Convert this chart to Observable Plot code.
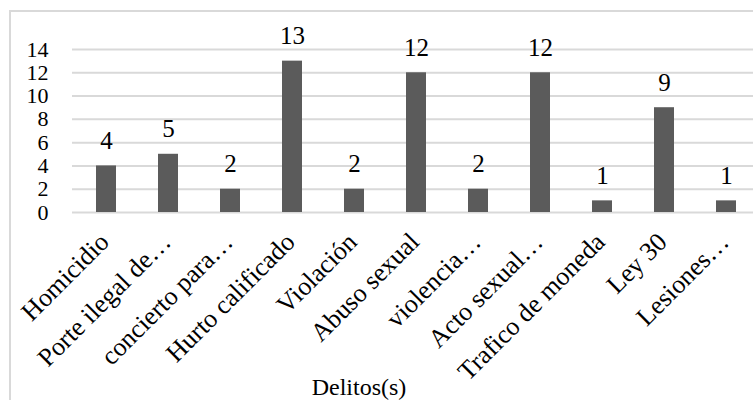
<!DOCTYPE html>
<html>
<head>
<meta charset="utf-8">
<script src="https://cdn.jsdelivr.net/npm/d3@7"></script>
<script src="https://cdn.jsdelivr.net/npm/@observablehq/plot@0.6"></script>
<style>
  html, body { margin: 0; padding: 0; background: #fff; overflow: hidden; width: 753px; height: 400px; }
  #wrap { position: relative; width: 753px; height: 400px; overflow: hidden; }
  #frame { position: absolute; left: 9px; top: 10px; width: 800px; height: 500px;
           border-left: 2px solid #d9d9d9; border-top: 2px solid #d9d9d9; box-sizing: border-box; }
  #chart { position: absolute; left: 0; top: 0; width: 765px; }
  #chart svg { max-width: none !important; font-family: "Liberation Serif", "Times New Roman", serif !important; }
  #chart svg text { font-family: "Liberation Serif", "Times New Roman", serif !important; }
  #title { position: absolute; left: 0; width: 718px; top: 374px; text-align: center; line-height: 1.1;
           font-family: "Liberation Serif", "Times New Roman", serif; font-size: 24px; color: #000; }
</style>
</head>
<body>
<div id="wrap">
  <div id="frame"></div>
  <div id="chart"></div>
  <div id="title">Delitos(s)</div>
</div>
<script>
const categories = ["Homicidio", "Porte ilegal de…", "concierto para…", "Hurto calificado", "Violación", "Abuso sexual", "violencia…", "Acto sexual…", "Trafico de moneda", "Ley 30", "Lesiones…"];
const values = [4, 5, 2, 13, 2, 12, 2, 12, 1, 9, 1];
const yTicks = [0, 2, 4, 6, 8, 10, 12, 14];

const data = categories.map((c, i) => ({category: c, value: values[i]}));

const chart = Plot.plot({
  width: 765,
  height: 400,
  marginLeft: 72,
  marginRight: 6,
  marginTop: 49,
  marginBottom: 188,
  style: "font-family: 'Liberation Serif', 'Times New Roman', serif; color: #000; background: transparent; overflow: visible; max-width: none;",
  x: {domain: categories, paddingInner: 0.68, paddingOuter: 0.34, axis: null},
  y: {domain: [0, 14], ticks: yTicks},
  marks: [
    Plot.gridY(yTicks, {stroke: "#d9d9d9", strokeOpacity: 1, strokeWidth: 2}),
    Plot.axisY(yTicks, {tickSize: 0, tickPadding: 24, fontSize: 22, label: null}),
    Plot.barY(data, {x: "category", y: "value", fill: "#5b5b5b"}),
    Plot.text(data, {x: "category", y: "value", text: d => String(d.value), lineAnchor: "bottom", dy: -17, fontSize: 25, fill: "#000"}),
    Plot.text(categories, {x: d => d, frameAnchor: "bottom", text: d => d, rotate: -45, textAnchor: "end", lineAnchor: "bottom", dx: 4, dy: 31, fontSize: 26, fill: "#000"})
  ]
});
document.getElementById("chart").appendChild(chart);
</script>
</body>
</html>
